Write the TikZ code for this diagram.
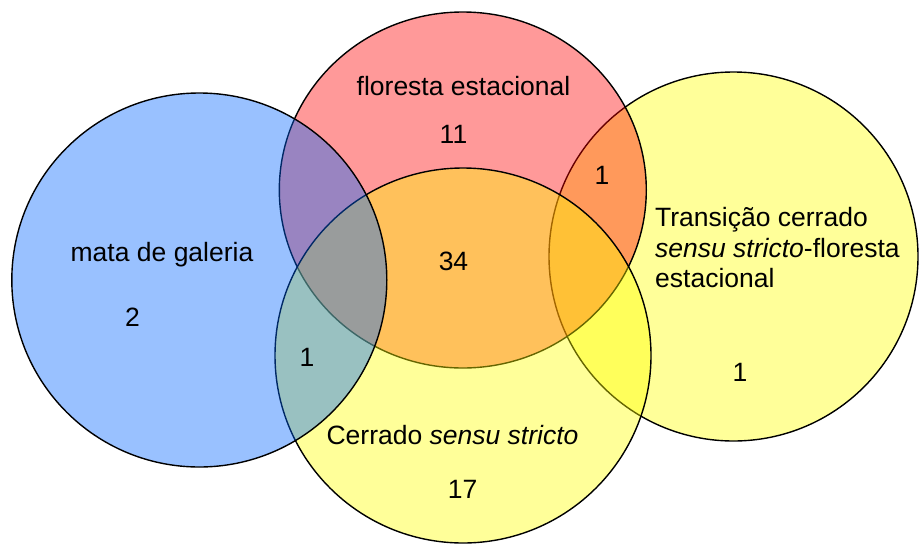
\documentclass[tikz,border=0pt]{standalone}
\usepackage{fontspec}
\setmainfont{Liberation Sans}
\usetikzlibrary{shapes.geometric}
\definecolor{vyellow}{RGB}{255,255,0}
\definecolor{vred}{RGB}{255,0,0}
\definecolor{vblue}{RGB}{0,102,255}
\tikzset{
  venn/.style={ellipse, draw=black, line width=1.4pt, fill opacity=0.4, draw opacity=1, inner sep=0pt, outer sep=0pt},
  lbl/.style={inner sep=0pt, anchor=base, font=\fontsize{26.5}{30.5}\selectfont},
}
\begin{document}
\begin{tikzpicture}[x=1pt,y=-1pt]
\useasboundingbox (0,0) rectangle (919,544);
\fill[white] (0,0) rectangle (919,544);
% circles, bottom to top
\node[venn, fill=vyellow, minimum width=369pt, minimum height=369pt] (trans) at (733.5,256.5) {};
\node[venn, fill=vred, minimum width=367pt, minimum height=356pt] (flor) at (462.8,190) {};
\node[venn, fill=vyellow, minimum width=376pt, minimum height=375pt] (cerr) at (463,355.5) {};
\node[venn, fill=vblue, minimum width=375pt, minimum height=374pt] (mata) at (199.3,280) {};
% labels
\node[lbl] (tflor) at (463.5,95) {floresta estacional};
\node[lbl] (n11) at (453.5,143) {11};
\node[lbl] (tmata) at (162,261.7) {mata de galeria};
\node[lbl] (n2) at (132.5,326) {2};
\node[lbl] (n1a) at (307,366) {1};
\node[lbl] (n34) at (453.5,270.7) {34};
\node[lbl] (n1b) at (602,184) {1};
\node[lbl] (n1c) at (740,381) {1};
\node[lbl] (tcerr) at (452.5,444) {Cerrado \textit{sensu stricto}};
\node[lbl] (n17) at (462.5,498) {17};
\node[lbl, anchor=base west] (ttrans) at (655,226.7) {\parbox[t]{260pt}{\fontsize{26.5}{30.5}\selectfont Transição cerrado\\ \textit{sensu stricto}-floresta\\ estacional}};
\end{tikzpicture}
\end{document}
